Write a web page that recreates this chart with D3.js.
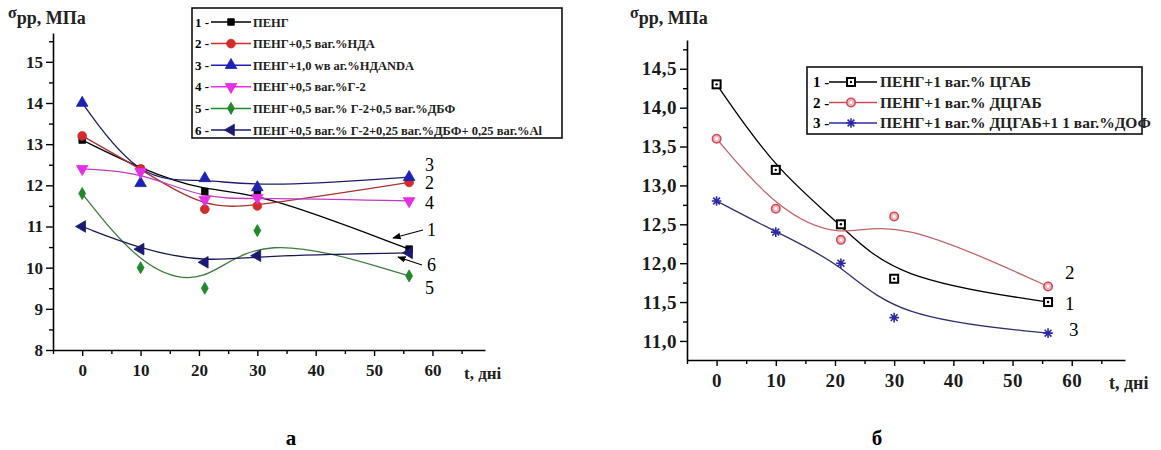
<!DOCTYPE html>
<html>
<head>
<meta charset="utf-8">
<script src="https://cdn.jsdelivr.net/npm/d3@7"></script>
<style>
  body { margin: 0; background: #fff; }
  text { font-family: "Liberation Serif", "Times New Roman", serif; }
</style>
</head>
<body>
<svg id="chart" width="1161" height="450"></svg>
<script>
// ---- data, panel a ----
const daysA = [0, 10, 21, 30, 56];
const namesA = [
  'ПЕНГ',
  'ПЕНГ+0,5 ваг.%НДА',
  'ПЕНГ+1,0 wв аг.%НДANDA',
  'ПЕНГ+0,5 ваг.%Г-2',
  'ПЕНГ+0,5 ваг.% Г-2+0,5 ваг.%ДБФ',
  'ПЕНГ+0,5 ваг.% Г-2+0,25 ваг.%ДБФ+ 0,25 ваг.%Al'
];
const peng      = [13.1, 12.4, 11.85, 11.85, 10.45];
const pengNda   = [13.2, 12.4, 11.42, 11.5, 12.07];
const pengNdanda = [14.0, 12.05, 12.17, 11.95, 12.2];
const pengG2    = [12.4, 12.33, 11.65, 11.7, 11.62];
const pengG2Dbf = [11.8, 10.0, 9.5, 10.9, 9.8];
const pengG2DbfAl = [11.0, 10.45, 10.13, 10.29, 10.36];
const ticksYA = [8, 9, 10, 11, 12, 13, 14, 15];
const ticksXA = [0, 10, 20, 30, 40, 50, 60];

// ---- data, panel б ----
const daysB = [0, 10, 21, 30, 56];
const namesB = [
  'ПЕНГ+1 ваг.% ЦГАБ',
  'ПЕНГ+1 ваг.% ДЦГАБ',
  'ПЕНГ+1 ваг.% ДЦГАБ+1 1 ваг.%ДОФ'
];
const cgab     = [14.3, 13.2, 12.5, 11.8, 11.5];
const dcgab    = [13.6, 12.7, 12.3, 12.6, 11.7];
const dcgabDof = [12.8, 12.4, 12.0, 11.3, 11.1];
const ticksYB = [11.0, 11.5, 12.0, 12.5, 13.0, 13.5, 14.0, 14.5];
const ticksXB = [0, 10, 20, 30, 40, 50, 60];

const svg = d3.select('#chart');

// marker shapes
const starPath = r => {
  let p = '';
  [0, 45, 90, 135].forEach(a => {
    const dx = r * Math.cos(a * Math.PI / 180), dy = r * Math.sin(a * Math.PI / 180);
    p += `M${-dx},${-dy}L${dx},${dy}`;
  });
  return p;
};

const stylesA = [
  { color: '#000000', line: '#000000', sym: d3.symbolSquare, size: 44, rot: 0 },
  { color: '#d42a2a', line: '#a83232', sym: d3.symbolCircle, size: 60, rot: 0 },
  { color: '#1c22b4', line: '#1e1e6e', sym: d3.symbolTriangle, size: 58, rot: 0 },
  { color: '#e62ee6', line: '#c23cc2', sym: d3.symbolTriangle, size: 58, rot: 180 },
  { color: '#1f8a2a', line: '#3e7c3e', sym: d3.symbolDiamond, size: 42, rot: 0 },
  { color: '#1a1a72', line: '#1a1a50', sym: d3.symbolTriangle, size: 58, rot: -90 }
];
const stylesB = [
  { color: '#000000', line: '#000000', kind: 'sq' },
  { color: '#d04a5a', line: '#c06464', kind: 'ci' },
  { color: '#2a2aa8', line: '#30306e', kind: 'st' }
];

function drawMarkerA(g, st, x, y) {
  g.append('path')
    .attr('d', d3.symbol().type(st.sym).size(st.size)())
    .attr('transform', `translate(${x},${y}) rotate(${st.rot})`)
    .attr('fill', st.color)
    .attr('stroke', st.color)
    .attr('stroke-width', 0.8);
}

function drawMarkerB(g, st, x, y) {
  if (st.kind === 'sq') {
    g.append('rect').attr('x', x - 4).attr('y', y - 4).attr('width', 8).attr('height', 8)
      .attr('fill', '#fff').attr('stroke', st.color).attr('stroke-width', 2);
    g.append('circle').attr('cx', x).attr('cy', y).attr('r', 1.2).attr('fill', st.color);
  } else if (st.kind === 'ci') {
    g.append('circle').attr('cx', x).attr('cy', y).attr('r', 4.2)
      .attr('fill', '#f2b8c0').attr('stroke', st.color).attr('stroke-width', 1.6);
    g.append('circle').attr('cx', x).attr('cy', y).attr('r', 1.4).attr('fill', '#fff');
  } else {
    g.append('path').attr('d', starPath(4.8)).attr('transform', `translate(${x},${y})`)
      .attr('stroke', st.color).attr('stroke-width', 1.6).attr('fill', 'none');
  }
}

function drawAxes(x, y, ticksX, ticksY, minorX, minorY, fmt, fs, ls) {
  const ya = svg.append('g').attr('transform', `translate(${x.range()[0]},0)`)
    .call(d3.axisLeft(y).tickValues(ticksY).tickFormat(fmt).tickSize(7).tickSizeOuter(0).tickPadding(3));
  svg.append('g').attr('transform', `translate(${x.range()[0]},0)`)
    .call(d3.axisLeft(y).tickValues(minorY).tickFormat('').tickSize(4).tickSizeOuter(0))
    .select('.domain').remove();
  const xa = svg.append('g').attr('transform', `translate(0,${y.range()[0]})`)
    .call(d3.axisBottom(x).tickValues(ticksX).tickSize(6).tickSizeOuter(0).tickPadding(8));
  svg.append('g').attr('transform', `translate(0,${y.range()[0]})`)
    .call(d3.axisBottom(x).tickValues(minorX).tickFormat('').tickSize(4).tickSizeOuter(0))
    .select('.domain').remove();
  [ya, xa].forEach(a => {
    a.select('.domain').attr('stroke', '#000').attr('stroke-width', 1.6);
    a.selectAll('.tick text')
      .style('font-family', '"Liberation Serif", serif')
      .style('font-size', fs + 'px')
      .style('font-weight', 'bold')
      .style('letter-spacing', ls + 'px')
      .attr('fill', '#1a1a1a');
  });
  svg.selectAll('.tick line').attr('stroke', '#000').attr('stroke-width', 1.4);
}

// ================= panel a =================
const xA = d3.scaleLinear().domain([-5, 69]).range([53, 485]);
const yA = d3.scaleLinear().domain([8, 15.7]).range([350, 33]);
const seriesA = [peng, pengNda, pengNdanda, pengG2, pengG2Dbf, pengG2DbfAl];

drawAxes(xA, yA, ticksXA, ticksYA,
  [-5, 5, 15, 25, 35, 45, 55, 65],
  [8.5, 9.5, 10.5, 11.5, 12.5, 13.5, 14.5, 15.5],
  d3.format('d'), 17, 0);

const lineA = d3.line().x((d, i) => xA(daysA[i])).y(d => yA(d)).curve(d3.curveBasis);
const gA = svg.append('g');
seriesA.forEach((s, k) => {
  gA.append('path').attr('d', lineA(s)).attr('fill', 'none')
    .attr('stroke', stylesA[k].line).attr('stroke-width', 1.3);
});
seriesA.forEach((s, k) => {
  s.forEach((v, i) => drawMarkerA(gA, stylesA[k], xA(daysA[i]), yA(v)));
});

// legend a
const legA = svg.append('g');
legA.append('rect').attr('x', 192).attr('y', 8).attr('width', 370).attr('height', 130)
  .attr('fill', '#fff').attr('stroke', '#111').attr('stroke-width', 1.6);
namesA.forEach((n, k) => {
  const yy = 22 + k * 21.6;
  legA.append('text').attr('x', 195).attr('y', yy + 4.5).attr('font-size', 13).attr('font-weight', 'bold')
    .text(`${k + 1} -`);
  legA.append('line').attr('x1', 211).attr('x2', 251).attr('y1', yy).attr('y2', yy)
    .attr('stroke', stylesA[k].color).attr('stroke-width', 1.5);
  drawMarkerA(legA, stylesA[k], 231, yy);
  legA.append('text').attr('x', 253).attr('y', yy + 4.5).attr('font-size', 12.5).attr('font-weight', 'bold')
    .attr('fill', '#222').text(n);
});

// curve labels a
const labA = [['3', 425, 171], ['2', 425, 189], ['4', 425, 209], ['1', 427, 236], ['6', 427, 271], ['5', 425, 294]];
labA.forEach(l => svg.append('text').attr('x', l[1]).attr('y', l[2]).attr('font-size', 18).text(l[0]));
svg.append('defs').html(
  '<marker id="ah" viewBox="0 0 10 10" refX="9" refY="5" markerWidth="7" markerHeight="7" orient="auto-start-reverse">' +
  '<path d="M0,1L10,5L0,9z" fill="#000"/></marker>');
svg.append('line').attr('x1', 423).attr('y1', 230).attr('x2', 393).attr('y2', 238)
  .attr('stroke', '#000').attr('stroke-width', 1.2).attr('marker-end', 'url(#ah)');
svg.append('line').attr('x1', 422).attr('y1', 265).attr('x2', 398).attr('y2', 257)
  .attr('stroke', '#000').attr('stroke-width', 1.2).attr('marker-end', 'url(#ah)');

// titles a
const tA = svg.append('text').attr('x', 8).attr('y', 24).attr('font-weight', 'bold').attr('fill', '#222');
tA.append('tspan').attr('font-size', 16).attr('dy', -6).text('σ');
tA.append('tspan').attr('font-size', 18).attr('dy', 6).text('рр');
tA.append('tspan').attr('font-size', 18).text(', МПа');
svg.append('text').attr('x', 464).attr('y', 379).attr('font-size', 17).attr('font-weight', 'bold')
  .attr('fill', '#222').text('t, дні');
svg.append('text').attr('x', 291).attr('y', 445).attr('font-size', 21).attr('font-weight', 'bold')
  .attr('text-anchor', 'middle').text('а');

// ================= panel б =================
const xB = d3.scaleLinear().domain([-5, 69]).range([687, 1125]);
const yB = d3.scaleLinear().domain([10.755, 14.87]).range([360, 40]);
const seriesB = [cgab, dcgab, dcgabDof];

drawAxes(xB, yB, ticksXB, ticksYB,
  [-5, 5, 15, 25, 35, 45, 55, 65],
  [11.25, 11.75, 12.25, 12.75, 13.25, 13.75, 14.25, 14.75],
  v => d3.format('.1f')(v).replace('.', ','), 19, 0.5);

const lineB = d3.line().x((d, i) => xB(daysB[i])).y(d => yB(d)).curve(d3.curveBasis);
const gB = svg.append('g');
seriesB.forEach((s, k) => {
  gB.append('path').attr('d', lineB(s)).attr('fill', 'none')
    .attr('stroke', stylesB[k].line).attr('stroke-width', 1.3);
});
seriesB.forEach((s, k) => {
  s.forEach((v, i) => drawMarkerB(gB, stylesB[k], xB(daysB[i]), yB(v)));
});

// legend б
const legB = svg.append('g');
legB.append('rect').attr('x', 807).attr('y', 67).attr('width', 335).attr('height', 67)
  .attr('fill', '#fff').attr('stroke', '#111').attr('stroke-width', 1.6);
namesB.forEach((n, k) => {
  const yy = 82 + k * 20.5;
  legB.append('text').attr('x', 813).attr('y', yy + 5).attr('font-size', 15).attr('font-weight', 'bold')
    .text(`${k + 1} -`);
  legB.append('line').attr('x1', 829).attr('x2', 877).attr('y1', yy).attr('y2', yy)
    .attr('stroke', stylesB[k].color).attr('stroke-width', 1.5);
  drawMarkerB(legB, stylesB[k], 851, yy);
  legB.append('text').attr('x', 880).attr('y', yy + 5).attr('font-size', 15.5).attr('font-weight', 'bold')
    .attr('fill', '#222').text(n);
});

// curve labels б
const labB = [['2', 1065, 279], ['1', 1065, 310], ['3', 1069, 336]];
labB.forEach(l => svg.append('text').attr('x', l[1]).attr('y', l[2]).attr('font-size', 19).text(l[0]));

// titles б
const tB = svg.append('text').attr('x', 630).attr('y', 24).attr('font-weight', 'bold').attr('fill', '#222');
tB.append('tspan').attr('font-size', 16).attr('dy', -6).text('σ');
tB.append('tspan').attr('font-size', 18).attr('dy', 6).text('рр');
tB.append('tspan').attr('font-size', 18).text(', МПа');
svg.append('text').attr('x', 1109).attr('y', 389).attr('font-size', 18).attr('font-weight', 'bold')
  .attr('fill', '#222').text('t, дні');
svg.append('text').attr('x', 877).attr('y', 445).attr('font-size', 21).attr('font-weight', 'bold')
  .attr('text-anchor', 'middle').text('б');
</script>
</body>
</html>
